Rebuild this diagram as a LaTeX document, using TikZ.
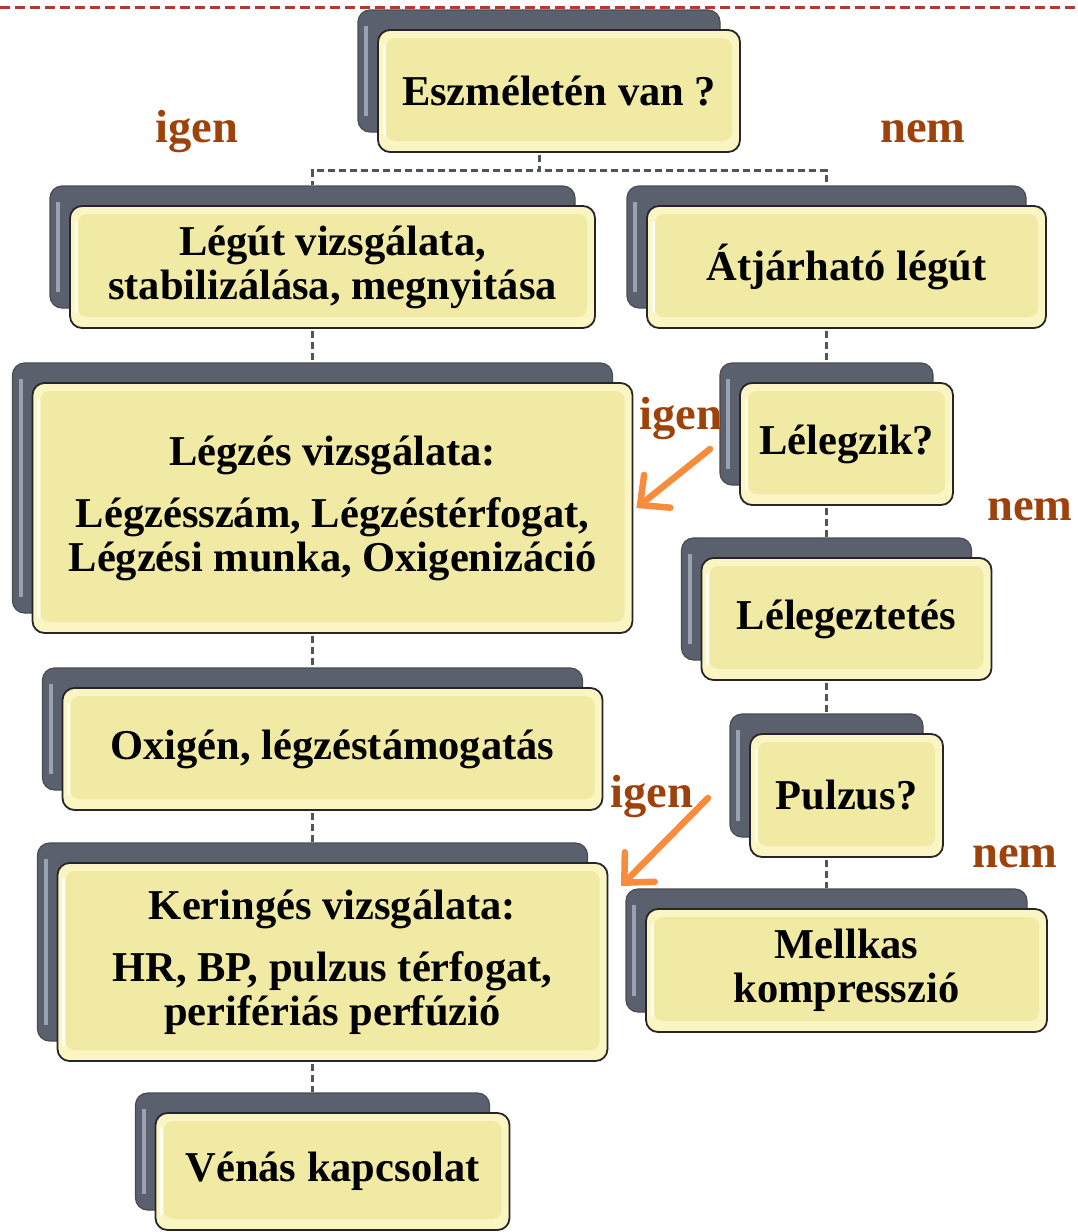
\documentclass[tikz,border=0pt]{standalone}
\usepackage{fontspec}
\setmainfont{Liberation Serif}
\usetikzlibrary{arrows.meta,backgrounds,calc}
\definecolor{yelOut}{HTML}{FAF5C2}
\definecolor{yelIn}{HTML}{F1EAA4}
\definecolor{backGray}{HTML}{5A606E}
\definecolor{backLight}{HTML}{9AA2B2}
\definecolor{labBrown}{HTML}{9E420C}
\definecolor{arrOrange}{HTML}{F78C3C}
\definecolor{connGray}{HTML}{4F545E}
\definecolor{topRed}{HTML}{B03C2E}
\tikzset{
 frontbox/.style={draw=black!85, line width=1.8pt, rounded corners=12pt, fill=yelOut, align=center,
   font=\bfseries\fontsize{42.5}{44}\selectfont, inner sep=0pt,
   path picture={
     \fill[yelIn, rounded corners=9pt] ([shift={(8pt,-8pt)}]path picture bounding box.north west) rectangle ([shift={(-8pt,11pt)}]path picture bounding box.south east);
     \draw[white, line width=3pt, opacity=.8, line cap=round] ([shift={(6pt,-16pt)}]path picture bounding box.north west) -- ([shift={(6pt,16pt)}]path picture bounding box.south west);
   }},
 backbox/.style={draw=black!70, line width=1.2pt, rounded corners=12pt, fill=backGray, inner sep=0pt,
   path picture={\draw[backLight, line width=4pt] ([shift={(8pt,-16pt)}]path picture bounding box.north west) -- ([shift={(8pt,16pt)}]path picture bounding box.south west);}},
 conn/.style={draw=connGray, line width=3pt, dash pattern=on 7pt off 4pt},
 lab/.style={text=labBrown, font=\bfseries\fontsize{46.5}{46}\selectfont, inner sep=0pt, anchor=base west},
 arr/.style={draw=arrOrange, line width=6.5pt, line cap=round, -{Straight Barb[length=22pt,width=42pt,line cap=round]}},
 topline/.style={draw=topRed, line width=3pt, dash pattern=on 10pt off 5pt}
}
\newcommand\tbox[6]{%
  \node[backbox, minimum width=#4pt, minimum height=#5pt] (#1back) at (#2-20,#3-20) {};
  \node[frontbox, minimum width=#4pt, minimum height=#5pt] (#1) at (#2,#3) {#6};
}
\begin{document}
\begin{tikzpicture}[x=1pt,y=-1pt]
\useasboundingbox (0,0) rectangle (1077,1232);
\coordinate (tl) at (0,7);
\coordinate (tr) at (1077,7);
\draw[topline] (tl) -- (tr);

\tbox{b1}{559}{91}{362}{122}{Eszméletén van ?}
\tbox{b2}{332.5}{267}{525}{122}{Légút vizsgálata,\\stabilizálása, megnyitása}
\tbox{b3}{846.5}{267}{399}{122}{Átjárható légút}
\tbox{b4}{332.5}{508}{600}{250}{Légzés vizsgálata:\\[18pt]Légzésszám, Légzéstérfogat,\\Légzési munka, Oxigenizáció}
\tbox{b5}{846.5}{444}{213}{122}{Lélegzik?}
\tbox{b6}{846.5}{619}{290}{122}{Lélegeztetés}
\tbox{b7}{332.5}{749}{540}{122}{Oxigén, légzéstámogatás}
\tbox{b8}{846.5}{795.5}{193}{123}{Pulzus?}
\tbox{b9}{332.5}{962}{550}{198}{Keringés vizsgálata:\\[18pt]HR, BP, pulzus térfogat,\\perifériás perfúzió}
\tbox{b10}{846.5}{970.5}{401}{123}{Mellkas\\kompresszió}
\tbox{b11}{332.5}{1171.5}{354}{117}{Vénás kapcsolat}

\begin{scope}[on background layer]
\draw[conn] (b1back.south) -- ++(0,38) -| (b2back.north);
\draw[conn] (b1back.south) -- ++(0,38) -| (b3back.north);
\draw[conn] (b2back.south) -- (b2back.south |- b4back.north);
\draw[conn] (b4back.south) -- (b4back.south |- b7back.north);
\draw[conn] (b7back.south) -- (b7back.south |- b9back.north);
\draw[conn] (b9back.south) -- (b9back.south |- b11back.north);
\draw[conn] (b3back.south) -- (b3back.south |- b5back.north);
\draw[conn] (b5back.south) -- (b5back.south |- b6back.north);
\draw[conn] (b6back.south) -- (b6back.south |- b8back.north);
\draw[conn] (b8back.south) -- (b8back.south |- b10back.north);
\end{scope}

\node[lab] (l1) at (155,142) {igen};
\node[lab] (l2) at (880,142) {nem};
\node[lab] (l3) at (639,429) {igen};
\node[lab] (l4) at (987,520) {nem};
\node[lab] (l5) at (610,807) {igen};
\node[lab] (l6) at (972,867) {nem};

\coordinate (a1s) at (710,449);
\coordinate (a2s) at (708,798);
\coordinate (a2e) at (621,886);
\draw[arr] (a1s) -- ([xshift=3pt]b4.east);
\draw[arr] (a2s) -- (a2e);
\end{tikzpicture}
\end{document}
